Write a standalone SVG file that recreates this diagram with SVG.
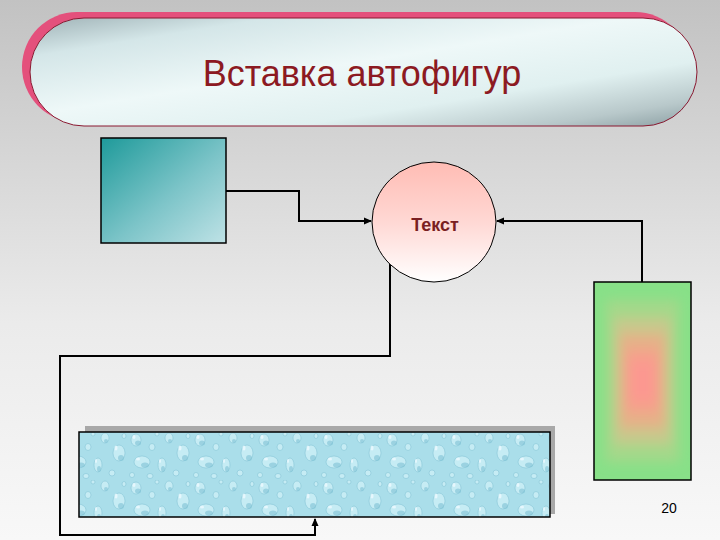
<svg xmlns="http://www.w3.org/2000/svg" width="720" height="540" viewBox="0 0 720 540">
<defs>
<style>
.conn{fill:none;stroke:#000;stroke-width:2}
.lbl{font-family:"Liberation Sans",Arial,sans-serif}
</style>
<linearGradient id="bg" x1="0" y1="0" x2="0" y2="1">
<stop offset="0" stop-color="#c2c2c2"/>
<stop offset="0.6" stop-color="#ebebeb"/>
<stop offset="1" stop-color="#f8f8f8"/>
</linearGradient>
<linearGradient id="metal" x1="0" y1="0" x2="1" y2="1">
<stop offset="0" stop-color="#9fb2b6"/>
<stop offset="0.18" stop-color="#d4e6e8"/>
<stop offset="0.45" stop-color="#eef8f8"/>
<stop offset="0.7" stop-color="#e0f0f0"/>
<stop offset="0.88" stop-color="#b8c8ca"/>
<stop offset="1" stop-color="#8a9ea2"/>
</linearGradient>
<linearGradient id="teal" x1="0" y1="0" x2="1" y2="1">
<stop offset="0" stop-color="#1e9a9a"/>
<stop offset="0.55" stop-color="#7cc4c8"/>
<stop offset="1" stop-color="#bfe2e6"/>
</linearGradient>
<linearGradient id="pinkc" x1="0" y1="0" x2="0" y2="1">
<stop offset="0" stop-color="#ffbcb4"/>
<stop offset="0.5" stop-color="#ffd8d4"/>
<stop offset="1" stop-color="#ffffff"/>
</linearGradient>
<filter id="soft" x="-20%" y="-20%" width="140%" height="140%">
<feGaussianBlur stdDeviation="6"/>
</filter>
<clipPath id="gclip">
<rect x="594" y="282" width="97" height="198"/>
</clipPath>
<pattern id="drops" width="64" height="48" patternUnits="userSpaceOnUse">
<rect width="64" height="48" fill="#aadeea"/>
<g fill="#c6ecf4" stroke="#84c4d6" stroke-width="0.6">
<ellipse cx="8" cy="8" rx="5" ry="6"/>
<ellipse cx="24" cy="15" rx="3" ry="3.5"/>
<ellipse cx="41" cy="6" rx="4" ry="5"/>
<ellipse cx="55" cy="21" rx="6" ry="8"/>
<ellipse cx="14" cy="30" rx="8" ry="6"/>
<ellipse cx="34" cy="33" rx="4" ry="7"/>
<ellipse cx="48" cy="41" rx="3" ry="3"/>
<ellipse cx="4" cy="43" rx="2.5" ry="2.5"/>
<ellipse cx="29" cy="2" rx="2" ry="2"/>
<ellipse cx="60" cy="4" rx="2" ry="2.5"/>
<ellipse cx="22" cy="44" rx="3" ry="2.5"/>
</g>
<g fill="#78bed2" opacity="0.55">
<ellipse cx="10" cy="11" rx="3" ry="2.5"/>
<ellipse cx="57" cy="26" rx="3" ry="3"/>
<ellipse cx="17" cy="33" rx="4" ry="2.5"/>
<ellipse cx="35" cy="37" rx="2" ry="3"/>
<ellipse cx="42" cy="9" rx="2" ry="2"/>
</g>
<g fill="#eefaff" opacity="0.8">
<ellipse cx="6" cy="5" rx="1.5" ry="2"/>
<ellipse cx="52" cy="16" rx="1.5" ry="2.5"/>
<ellipse cx="10" cy="27" rx="2" ry="1.5"/>
<ellipse cx="32" cy="29" rx="1" ry="2"/>
</g>
</pattern>
<marker id="arr" markerWidth="8" markerHeight="8" refX="7" refY="4" orient="auto" markerUnits="userSpaceOnUse">
<path d="M0,0.5 L8,4 L0,7.5 Z" fill="#000"/>
</marker>
</defs>
<rect width="720" height="540" fill="url(#bg)"/>
<g id="title">
<rect x="22" y="12" width="668" height="110" rx="55" fill="#e4507c"/>
<rect x="30" y="18" width="667" height="108" rx="54" fill="url(#metal)" stroke="#8a1830" stroke-width="1"/>
<text class="lbl" x="362" y="86" font-size="36" fill="#8c1a22" text-anchor="middle">Вставка автофигур</text>
</g>
<g id="connectors">
<polyline class="conn" points="226,191 299,191 299,221 371,221" marker-end="url(#arr)"/>
<polyline class="conn" points="642,282 642,221 497,221" marker-end="url(#arr)"/>
<polyline class="conn" points="390,262 390,356 60,356 60,535 315,535 315,519" marker-end="url(#arr)"/>
</g>
<g id="square">
<rect x="101" y="138" width="125" height="105" fill="url(#teal)" stroke="#000" stroke-width="1.5"/>
</g>
<g id="circle">
<ellipse cx="434" cy="222" rx="62" ry="60" fill="url(#pinkc)" stroke="#000" stroke-width="1"/>
<text class="lbl" x="435" y="231" font-size="18" font-weight="bold" fill="#7a1f22" text-anchor="middle">Текст</text>
</g>
<g id="greenbox">
<rect x="594" y="282" width="97" height="198" fill="#88e088"/>
<g clip-path="url(#gclip)" filter="url(#soft)">
<rect x="606" y="300" width="73" height="162" fill="#a4d88a"/>
<rect x="614" y="318" width="57" height="126" fill="#c8c88c"/>
<rect x="620" y="334" width="45" height="94" fill="#e6b088"/>
<rect x="626" y="350" width="33" height="62" fill="#f6a08c"/>
<rect x="630" y="362" width="25" height="38" fill="#fc9890"/>
</g>
<rect x="594" y="282" width="97" height="198" fill="none" stroke="#000" stroke-width="1.5"/>
</g>
<g id="waterbox">
<rect x="85" y="426" width="470" height="88" fill="#a8a8a8"/>
<rect x="79" y="432" width="471" height="85" fill="url(#drops)" stroke="#000" stroke-width="1.5"/>
</g>
<text class="lbl" x="669" y="513" font-size="14" fill="#000" text-anchor="middle">20</text>
</svg>
